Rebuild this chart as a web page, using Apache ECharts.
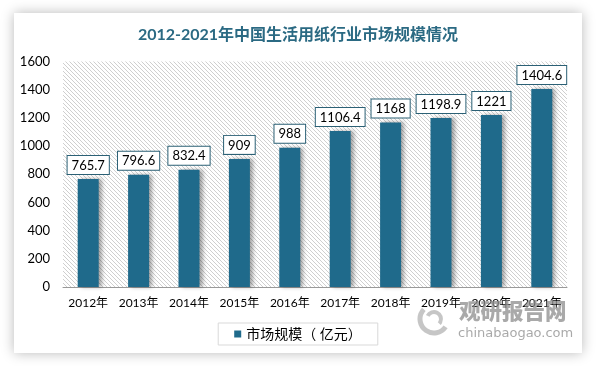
<!DOCTYPE html>
<html><head><meta charset="utf-8">
<script src="https://cdn.jsdelivr.net/npm/echarts@6/dist/echarts.min.js"></script>
<style>html,body{margin:0;padding:0;background:#fff}#c{width:596px;height:366px}</style>
</head><body><div id="c"></div>
<script>
const categories = ['2012年','2013年','2014年','2015年','2016年','2017年','2018年','2019年','2020年','2021年'];
const values = [765.7, 796.6, 832.4, 909, 988, 1106.4, 1168, 1198.9, 1221, 1404.6];
const seriesName = '市场规模（ 亿元）';
const titleText = '2012-2021年中国生活用纸行业市场规模情况';

function hatch(){
  const c = document.createElement('canvas');
  c.width = 4; c.height = 4;
  const g = c.getContext('2d');
  g.fillStyle = '#ffffff'; g.fillRect(0,0,4,4);
  g.strokeStyle = '#cfcfcf'; g.lineWidth = 1;
  g.beginPath();
  g.moveTo(-1,-1); g.lineTo(5,5);
  g.moveTo(-1,3); g.lineTo(1,5);
  g.moveTo(3,-1); g.lineTo(5,1);
  g.stroke();
  return c;
}
const font = "Lato, 'Noto Sans CJK SC', sans-serif";
const chart = echarts.init(document.getElementById('c'));
chart.setOption({
  backgroundColor: '#ffffff',
  animation: false,
  graphic: [
    {type:'rect', z:-10, shape:{x:14,y:13,width:568,height:340}, style:{fill:'#fff', shadowBlur:12, shadowColor:'rgba(0,0,0,0.28)'}},
    {type:'text', z:100, left:459, top:300, style:{text:'观研报告网', fill:'rgba(140,140,140,0.75)', font:"900 21.5px 'Noto Sans CJK SC'"}},
    {type:'text', z:100, left:458, top:327, style:{text:'chinabaogao.com', fill:'rgba(140,140,140,0.75)', font:"13px 'DejaVu Sans'"}},
    {type:'arc', z:100, shape:{cx:434, cy:319, r:14, startAngle:0.6, endAngle:3.9}, style:{fill:'none', stroke:'rgba(160,160,160,0.6)', lineWidth:5}},
    {type:'arc', z:100, shape:{cx:434, cy:319, r:7, startAngle:3.6, endAngle:7.0}, style:{fill:'none', stroke:'rgba(160,160,160,0.6)', lineWidth:4}}
  ],
  title: {text: titleText, left:'center', top:22, textStyle:{fontFamily:font, fontSize:16, fontWeight:'bold', color:'#2b6a83'}},
  legend: {bottom:21, left:'center', itemWidth:7, itemHeight:7, itemGap:4, icon:'rect', padding:[4,16,4,16], borderColor:'#d9d9d9', borderWidth:1, textStyle:{fontFamily:font, fontSize:14, color:'#000'}, data:[seriesName]},
  grid: {left:63, right:29, top:61.5, bottom:79, show:true, borderWidth:0, backgroundColor:{image:hatch(), repeat:'repeat'}},
  xAxis: {type:'category', data:categories, axisLine:{lineStyle:{color:'#999'}}, axisTick:{show:false}, axisLabel:{interval:0, fontFamily:font, fontSize:12, color:'#000', margin:10}},
  yAxis: {type:'value', min:0, max:1600, interval:200, splitLine:{show:false}, axisLine:{show:false}, axisTick:{show:false}, axisLabel:{fontFamily:font, fontSize:13, color:'#000', margin:13, formatter:v=>String(v)}},
  series: [{
    name: seriesName, type:'bar', data: values, barWidth:21,
    itemStyle:{color:'#1f6a8b', shadowColor:'rgba(0,0,0,0.35)', shadowBlur:4, shadowOffsetX:3},
    label:{show:true, position:'top', distance:5, backgroundColor:'#fff', borderColor:'#2b6075', borderWidth:1, padding:[3,4,2,4], fontFamily:font, fontSize:13, color:'#000'}
  }]
});
</script></body></html>
